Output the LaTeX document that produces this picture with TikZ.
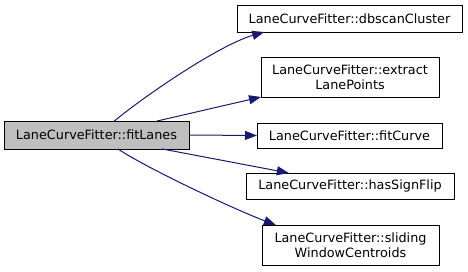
\documentclass[tikz,border=0pt]{standalone}
\usepackage{fontspec}
\setmainfont{DejaVu Sans}
\usepackage{tikz}
\usetikzlibrary{arrows.meta}
\definecolor{edgeblue}{HTML}{191970}
\definecolor{boxgray}{HTML}{BFBFBF}

\begin{document}
\begin{tikzpicture}[x=1pt,y=-1pt,
		fnnode/.style={draw, line width=1pt, inner sep=0pt, outer sep=0pt, align=center, font=\fontsize{12.8}{15}\selectfont},
		call/.style={-{Triangle[length=12pt,width=9pt]}, color=edgeblue, line width=1pt}
	]
	\useasboundingbox (0,0) rectangle (468,271);

	\node[fnnode, fill=boxgray, minimum width=185pt, minimum height=28pt] (fitLanes) at (96.5,135) {LaneCurveFitter::fitLanes};

	\node[fnnode, minimum width=225pt, minimum height=27pt] (dbscan) at (349.5,18.5) {LaneCurveFitter::dbscanCluster};
	\node[fnnode, minimum width=178pt, minimum height=40pt] (extract) at (350,77) {LaneCurveFitter::extract\\LanePoints};
	\node[fnnode, minimum width=185pt, minimum height=25pt] (fitCurve) at (349.5,135.5) {LaneCurveFitter::fitCurve};
	\node[fnnode, minimum width=208pt, minimum height=26pt] (signFlip) at (350,186) {LaneCurveFitter::hasSignFlip};
	\node[fnnode, minimum width=177pt, minimum height=40pt] (sliding) at (350.5,245) {LaneCurveFitter::sliding\\WindowCentroids};

	\draw[call] (fitLanes.38.66) .. controls +(30,-25) and +(-45,13) .. (dbscan.189.4);
	\draw[call] (fitLanes.13.92) -- (extract.south west);
	\draw[call] (fitLanes.east) -- (fitCurve.west);
	\draw[call] (fitLanes.-12.06) -- (signFlip.168.3);
	\draw[call] (fitLanes.-33.07) .. controls +(30,20) and +(-40,-15) .. (sliding.165.5);
\end{tikzpicture}
\end{document}
